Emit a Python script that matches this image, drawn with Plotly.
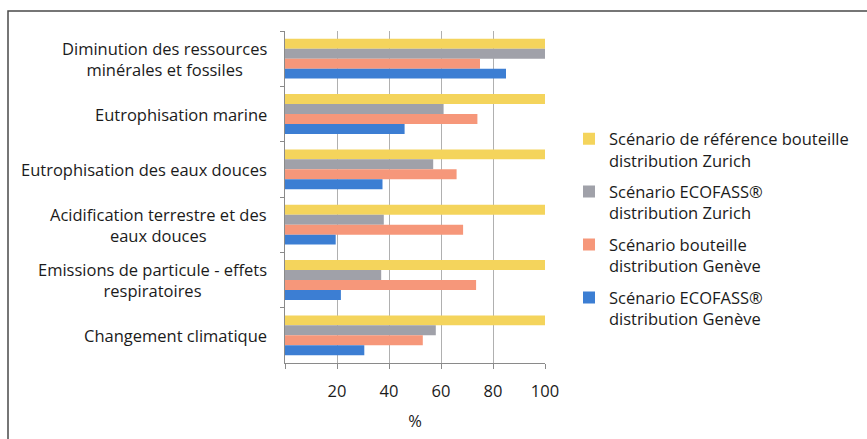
import plotly.graph_objects as go

categories = [
    "Diminution des ressources<br>minérales et fossiles",
    "Eutrophisation marine",
    "Eutrophisation des eaux douces",
    "Acidification terrestre et des<br>eaux douces",
    "Emissions de particule - effets<br>respiratoires",
    "Changement climatique",
]
cat_keys = ["c1", "c2", "c3", "c4", "c5", "c6"]

series_names = [
    "Scénario de référence bouteille<br>distribution Zurich",
    "Scénario ECOFASS®<br>distribution Zurich",
    "Scénario bouteille<br>distribution Genève",
    "Scénario ECOFASS®<br>distribution Genève",
]
ref_zurich = [100, 100, 100, 100, 100, 100]
ecofass_zurich = [100, 61, 57, 38, 37, 58]
bouteille_geneve = [75, 74, 66, 68.5, 73.5, 53]
ecofass_geneve = [85, 46, 37.5, 19.5, 21.5, 30.5]
series_values = [ref_zurich, ecofass_zurich, bouteille_geneve, ecofass_geneve]
colors = ["#F4D45C", "#A0A1A9", "#F6977A", "#3C7ED3"]

x_ticks = [0, 20, 40, 60, 80, 100]
x_ticktext = ["", "20", "40", "60", "80", "100"]

FONT = "Open Sans, Lato, sans-serif"
FS = 16.5
TXT = "#1b1b1b"

fig = go.Figure()
for i, (name, vals, col) in enumerate(zip(series_names, series_values, colors)):
    fig.add_trace(go.Bar(
        y=cat_keys, x=vals, name=name, orientation="h",
        marker=dict(color=col, line=dict(width=0)),
        legendgroup=f"g{i}",
    ))

for key, label in zip(cat_keys, categories):
    fig.add_annotation(
        x=0, xref="paper", xanchor="right", xshift=-16,
        y=key, yref="y", yanchor="middle",
        text=label, showarrow=False, align="center",
        font=dict(family=FONT, size=FS, color=TXT),
    )

L, R, T, B = 285, 322, 31, 74
W, H = 867, 439
pw, ph = W - L - R, H - T - B

def px_x(px):
    return (px - L) / pw

def px_y(py):
    return (H - B - py) / ph

fig.add_shape(
    type="rect", xref="paper", yref="paper",
    x0=px_x(8), x1=px_x(880), y0=px_y(452), y1=px_y(11),
    line=dict(color="#4a4a4a", width=1.5), fillcolor="rgba(0,0,0,0)",
    layer="below",
)

fig.update_layout(
    width=W, height=H,
    margin=dict(l=L, r=R, t=T, b=B),
    paper_bgcolor="white", plot_bgcolor="white",
    barmode="group", bargap=0.28, bargroupgap=0,
    font=dict(family=FONT, size=FS, color=TXT),
    showlegend=True,
    legend=dict(
        x=px_x(569), xanchor="left", y=px_y(122), yanchor="top",
        traceorder="grouped", tracegroupgap=7, valign="top",
        font=dict(family=FONT, size=FS, color=TXT),
        itemwidth=30,
    ),
    xaxis=dict(
        range=[0, 100], tickvals=x_ticks, ticktext=x_ticktext,
        showgrid=True, gridcolor="#b0b0b0", gridwidth=1,
        showline=True, linecolor="#8a8a8a", linewidth=1,
        ticks="outside", ticklen=5, tickcolor="#8a8a8a",
        ticklabelstandoff=8,
        title=dict(text="%", standoff=14, font=dict(family=FONT, size=FS, color=TXT)),
        zeroline=False, tickfont=dict(family=FONT, size=FS, color=TXT),
    ),
    yaxis=dict(
        categoryorder="array", categoryarray=cat_keys, autorange="reversed",
        showticklabels=False, tickson="boundaries",
        ticks="outside", ticklen=4, tickcolor="#8a8a8a",
        showline=True, linecolor="#8a8a8a", linewidth=1,
        showgrid=False, zeroline=False,
    ),
)

fig.write_html("out.html", config={"displayModeBar": False},
               post_script="document.body.style.margin='0';")
